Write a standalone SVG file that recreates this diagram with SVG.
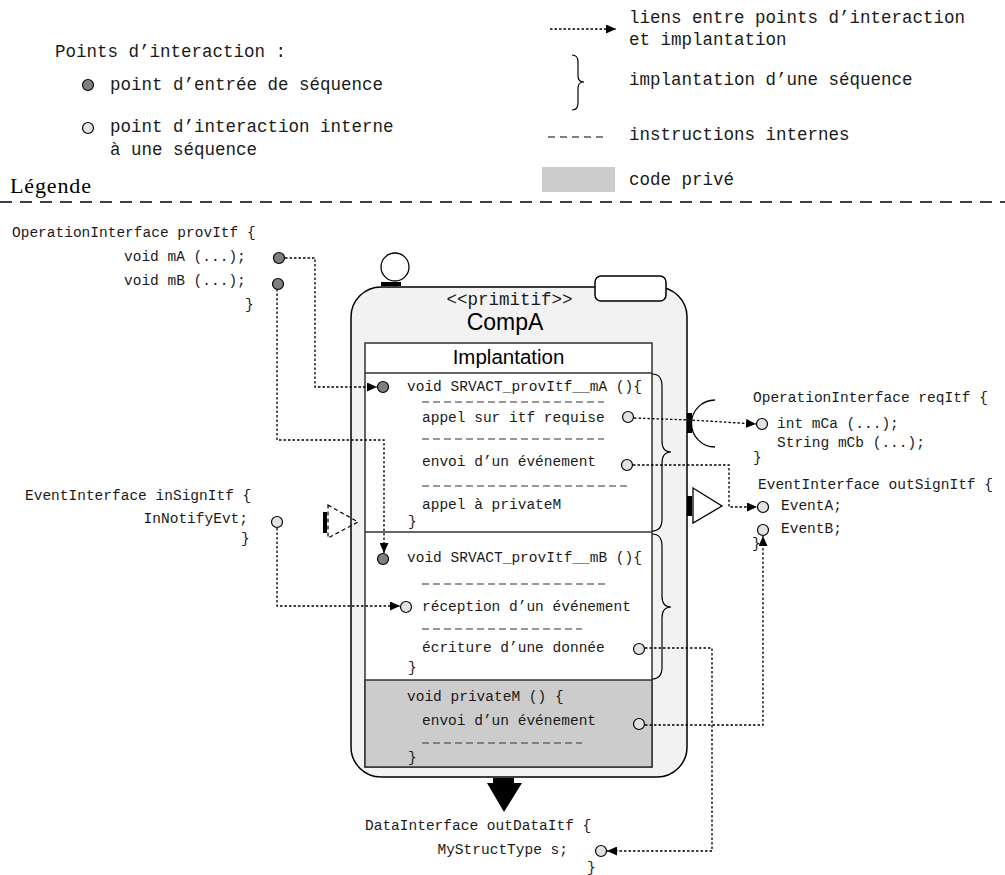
<svg xmlns="http://www.w3.org/2000/svg" width="1005" height="875" viewBox="0 0 1005 875">
<style>
.lg{font-family:"Liberation Mono","DejaVu Sans Mono",monospace;font-size:17.5px;fill:#1a1a1a}
.cd{font-family:"Liberation Mono","DejaVu Sans Mono",monospace;font-size:14.5px;fill:#1a1a1a}
.sans{font-family:"Liberation Sans",Arial,sans-serif;fill:#000}
.dot{fill:none;stroke:#000;stroke-width:1.3;stroke-dasharray:2.5 2}
.ins{fill:none;stroke:#333;stroke-width:1.2;stroke-dasharray:7 4}
.dk{fill:#7f7f7f;stroke:#000;stroke-width:1.2}
.lt{fill:#e2e2e2;stroke:#000;stroke-width:1.2}
.br{fill:none;stroke:#000;stroke-width:1.2}
</style>
<defs>
<marker id="ah" markerUnits="userSpaceOnUse" markerWidth="11" markerHeight="9" refX="10" refY="4.5" orient="auto">
<path d="M0,0 L10,4.5 L0,9 z" fill="#000"/>
</marker>
</defs>
<rect width="1005" height="875" fill="#fff"/>

<g id="legend">
<text class="lg" x="55" y="57">Points d’interaction :</text>
<circle class="dk" cx="88" cy="85" r="5.5"/>
<text class="lg" x="110" y="90">point d’entrée de séquence</text>
<circle class="lt" cx="88" cy="128" r="5.5"/>
<text class="lg" x="110" y="132">point d’interaction interne</text>
<text class="lg" x="110" y="155">à une séquence</text>
<text x="10" y="193" font-family="Liberation Serif,Times New Roman,serif" font-size="22" textLength="81" fill="#000">Légende</text>
<line x1="0" y1="202" x2="1005" y2="202" stroke="#000" stroke-width="1.3" stroke-dasharray="12 8"/>
<line x1="550" y1="29" x2="616" y2="29" class="dot" marker-end="url(#ah)"/>
<text class="lg" x="629" y="23">liens entre points d’interaction</text>
<text class="lg" x="629" y="45">et implantation</text>
<path class="br" d="M572,55 Q578,55 578,62 L578,76 Q578,82 584,82 Q578,82 578,88 L578,103 Q578,110 572,110"/>
<text class="lg" x="629" y="85">implantation d’une séquence</text>
<line x1="548" y1="137" x2="608" y2="137" stroke="#000" stroke-width="1.2" stroke-dasharray="7 5"/>
<text class="lg" x="629" y="140">instructions internes</text>
<rect x="542" y="167" width="73" height="25" fill="#cccccc"/>
<text class="lg" x="629" y="185">code privé</text>
</g>

<g id="provItf">
<text class="cd" x="12" y="237">OperationInterface provItf {</text>
<text class="cd" x="124" y="261">void mA (...);</text>
<text class="cd" x="124" y="285">void mB (...);</text>
<text class="cd" x="245" y="309">}</text>
</g>

<g id="inSignItf">
<text class="cd" x="25" y="500">EventInterface inSignItf {</text>
<text class="cd" x="248" y="523" text-anchor="end">InNotifyEvt;</text>
<text class="cd" x="241" y="543">}</text>
</g>

<g id="CompA">
<rect x="351" y="287" width="336" height="490" rx="30" ry="30" fill="#f2f2f2" stroke="#000" stroke-width="1.5"/>
<rect x="595" y="276" width="71" height="25" rx="6" ry="6" fill="#fff" stroke="#000" stroke-width="1.5"/>
<circle cx="395" cy="267" r="14" fill="#fff" stroke="#000" stroke-width="1.3"/>
<rect x="381" y="282" width="20" height="4" fill="#000"/>
<text class="lg" x="509.5" y="305" text-anchor="middle">&lt;&lt;primitif&gt;&gt;</text>
<text class="sans" x="505" y="330" font-size="23" text-anchor="middle">CompA</text>
<rect x="365" y="343" width="287" height="424" fill="#fff" stroke="#333" stroke-width="1.5"/>
<rect x="365" y="680" width="287" height="87" fill="#cccccc" stroke="#333" stroke-width="1.5"/>
<line x1="365" y1="373" x2="652" y2="373" stroke="#333" stroke-width="1.5"/>
<line x1="365" y1="532" x2="652" y2="532" stroke="#333" stroke-width="1.5"/>
<text class="sans" x="508.5" y="364" font-size="20.5" text-anchor="middle">Implantation</text>
<path class="br" d="M652,374 Q662,374 662,386 L662,441 Q662,452 671,452 Q662,452 662,463 L662,519 Q662,531 652,531"/>
<path class="br" d="M652,534 Q662,534 662,546 L662,596 Q662,607 671,607 Q662,607 662,618 L662,667 Q662,679 652,679"/>
</g>

<g id="mA">
<text class="cd" x="407" y="391">void SRVACT_provItf__mA (){</text>
<line class="ins" x1="422" y1="402" x2="604" y2="402"/>
<text class="cd" x="422" y="422">appel sur itf requise</text>
<line class="ins" x1="422" y1="439" x2="604" y2="439"/>
<text class="cd" x="422" y="466">envoi d’un événement</text>
<line class="ins" x1="422" y1="486" x2="628" y2="486"/>
<text class="cd" x="422" y="509">appel à privateM</text>
<text class="cd" x="408" y="526">}</text>
</g>

<g id="mB">
<text class="cd" x="407" y="562">void SRVACT_provItf__mB (){</text>
<line class="ins" x1="422" y1="584" x2="607" y2="584"/>
<text class="cd" x="422" y="611">réception d’un événement</text>
<line class="ins" x1="422" y1="629" x2="582" y2="629"/>
<text class="cd" x="422" y="652">écriture d’une donnée</text>
<text class="cd" x="408" y="672">}</text>
</g>

<g id="privateM">
<text class="cd" x="407" y="701">void privateM () {</text>
<text class="cd" x="422" y="725">envoi d’un événement</text>
<line class="ins" x1="422" y1="743" x2="582" y2="743"/>
<text class="cd" x="408" y="762">}</text>
</g>

<g id="inSignPort">
<rect x="323" y="512" width="4" height="21" fill="#000"/>
<path d="M328,505 L358,522 L328,538 Z" fill="none" stroke="#000" stroke-width="1.2" stroke-dasharray="4 3"/>
</g>

<g id="reqPort">
<rect x="687" y="413" width="5" height="20" fill="#000"/>
<path d="M715,400 A23,23 0 0 0 715,447" fill="none" stroke="#000" stroke-width="1.3"/>
</g>

<g id="outSignPort">
<rect x="687" y="496" width="5" height="20" fill="#000"/>
<path d="M693,488 L722,506 L693,523 Z" fill="#fff" stroke="#000" stroke-width="1.3"/>
</g>

<g id="outDataPort">
<rect x="493" y="778" width="21" height="5" fill="#000"/>
<path d="M487,783 L522,783 L504,812 Z" fill="#000"/>
</g>

<g id="reqItf">
<text class="cd" x="753" y="402">OperationInterface reqItf {</text>
<text class="cd" x="777" y="428">int mCa (...);</text>
<text class="cd" x="777" y="447">String mCb (...);</text>
<text class="cd" x="753" y="462">}</text>
</g>

<g id="outSignItf">
<text class="cd" x="758" y="489">EventInterface outSignItf {</text>
<text class="cd" x="781" y="510">EventA;</text>
<text class="cd" x="781" y="533">EventB;</text>
<text class="cd" x="752" y="548">}</text>
</g>

<g id="outDataItf">
<text class="cd" x="365" y="830">DataInterface outDataItf {</text>
<text class="cd" x="568" y="854" text-anchor="end">MyStructType s;</text>
<text class="cd" x="587" y="872">}</text>
</g>

<g id="connectors">
<path class="dot" d="M285,258 H315 V387 H377" marker-end="url(#ah)"/>
<path class="dot" d="M277,289 V440 H384 V553" marker-end="url(#ah)"/>
<path class="dot" d="M277,528 V606 H400" marker-end="url(#ah)"/>
<path class="dot" d="M634,418 L690,420 L756,424" marker-end="url(#ah)"/>
<path class="dot" d="M633,465 H729 V507 H757" marker-end="url(#ah)"/>
<path class="dot" d="M645,648 H712 V851 H607" marker-end="url(#ah)"/>
<path class="dot" d="M645,725 H763 V536" marker-end="url(#ah)"/>
</g>

<g id="points">
<circle class="dk" cx="279" cy="258" r="5.5"/>
<circle class="dk" cx="278" cy="284" r="5.5"/>
<circle class="lt" cx="277" cy="522" r="5.5"/>
<circle class="dk" cx="383" cy="387" r="5.5"/>
<circle class="dk" cx="383" cy="559" r="5.5"/>
<circle class="lt" cx="628" cy="417" r="5.5"/>
<circle class="lt" cx="627" cy="465" r="5.5"/>
<circle class="lt" cx="406" cy="607" r="5.5"/>
<circle class="lt" cx="639" cy="649" r="5.5"/>
<circle class="lt" cx="639" cy="724" r="5.5"/>
<circle class="lt" cx="762" cy="424" r="5.5"/>
<circle class="lt" cx="763" cy="507" r="5.5"/>
<circle class="lt" cx="763" cy="530" r="5.5"/>
<circle class="lt" cx="601" cy="851" r="5.5"/>
</g>
</svg>
